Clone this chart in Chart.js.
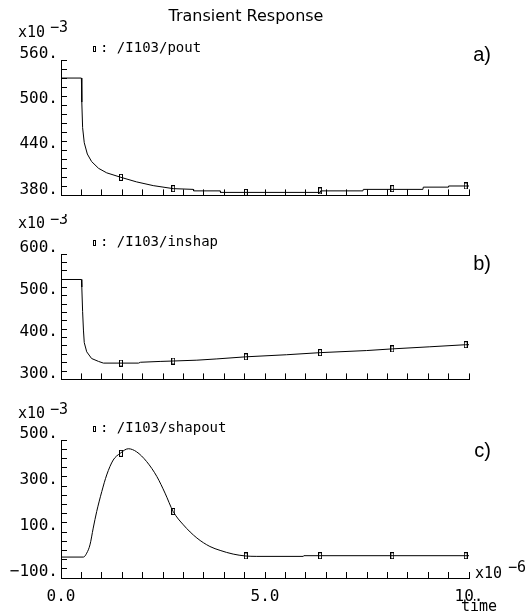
<!DOCTYPE html>
<html>
<head>
<meta charset="utf-8">
<script src="https://cdn.jsdelivr.net/npm/chart.js@4/dist/chart.umd.min.js"></script>
<style>
  body { margin: 0; background: #fff; }
  #wrap { position: relative; width: 528px; height: 616px; }
  canvas { position: absolute; left: 0; }
</style>
</head>
<body>
<div id="wrap">
  <canvas id="painelA" width="528" height="214" style="top:0px"></canvas>
  <canvas id="painelB" width="528" height="184" style="top:214px"></canvas>
  <canvas id="painelC" width="528" height="218" style="top:398px"></canvas>
</div>
<script>
// valores (tempo em us, tensao em mV)
const tempoA = [0, 0.5, 0.51, 0.53, 0.57, 0.645, 0.75, 0.92, 1.12, 1.47, 1.85, 2.26, 2.75, 3.24, 3.25, 3.9, 3.91, 6.35, 6.36, 7.4, 7.41, 8.87, 8.88, 9.49, 9.5, 10];
const pout   = [536, 536, 504, 470, 450, 435, 425, 416, 410, 404, 398, 393, 389, 388, 386, 386, 384, 384, 386, 386, 388, 388, 391, 391, 392.5, 392.5];

const tempoB = [0, 0.5, 0.51, 0.53, 0.55, 0.57, 0.63, 0.75, 0.92, 1.04, 1.9, 1.95, 2.43, 2.75, 3.33, 3.82, 4.53, 5.53, 6.35, 7.49, 8.12, 9.04, 9.92, 10];
const inshap = [539, 539, 521, 462, 418, 388, 366, 350, 343, 339, 339, 341, 343, 344, 346, 349, 354, 359, 364, 369, 373, 378, 383, 383];

const tempoC  = [0, 0.55, 0.63, 0.71, 0.79, 0.875, 1.0, 1.12, 1.28, 1.45, 1.65, 1.85, 2.1, 2.35, 2.55, 2.75, 3.0, 3.33, 3.65, 3.9, 4.22, 4.51, 4.8, 5.94, 5.95, 10];
const shapout = [-9, -9, 8, 44, 117, 189, 276, 348, 413, 442, 462, 449, 406, 341, 269, 189, 131, 74, 37, 20, 4, -4, -6, -6, -3, -3];

// marcadores
const tempoMarc = [1.47, 2.75, 4.53, 6.35, 8.12, 9.92];
const marcA = [404, 389, 384, 386, 389, 392.5];
const marcB = [339, 344, 354, 364, 373, 383];
const marcC = [442, 189, -4, -3, -3, -3];

// eixos
const eixoA = { min: 380, max: 560, passo: 12, rotulo: 60 };
const eixoB = { min: 300, max: 600, passo: 20, rotulo: 100 };
const eixoC = { min: -100, max: 500, passo: 40, rotulo: 200 };
const rotulosX = { 0: '0.0', 5: '5.0', 10: '10.' };

// marcador retangular pequeno
const marcador = document.createElement('canvas');
marcador.width = 4;
marcador.height = 7;
const mctx = marcador.getContext('2d');
mctx.strokeStyle = '#000';
mctx.lineWidth = 1;
mctx.strokeRect(0.5, 0.5, 3, 6);

const mono = 'DejaVu Sans Mono';

// textos soltos do grafico
const textos = {
  id: 'textos',
  afterDraw(chart, args, opts) {
    const ctx = chart.ctx;
    ctx.save();
    ctx.fillStyle = '#000';
    ctx.strokeStyle = '#000';
    ctx.lineWidth = 1;
    ctx.textBaseline = 'alphabetic';
    (opts.itens || []).forEach(t => {
      ctx.font = t.font;
      ctx.textAlign = t.align || 'left';
      ctx.fillText(t.text, t.x, t.y);
    });
    if (opts.legenda) {
      const l = opts.legenda;
      ctx.strokeRect(l.x + 0.5, l.y + 0.5, 2, 5);
    }
    ctx.restore();
  }
};

function pares(xs, ys) {
  return xs.map((x, i) => ({ x: x, y: ys[i] }));
}

function painel(id, cfg) {
  new Chart(document.getElementById(id), {
    type: 'line',
    data: {
      datasets: [{
        data: pares(cfg.tempo, cfg.valores),
        borderColor: '#000',
        borderWidth: 1,
        pointRadius: 0,
        tension: 0,
        cubicInterpolationMode: cfg.suave ? 'monotone' : 'default'
      }, {
        data: pares(tempoMarc, cfg.marcas),
        showLine: false,
        pointStyle: marcador,
        pointRadius: 3
      }]
    },
    options: {
      responsive: false,
      animation: false,
      events: [],
      layout: { padding: { left: 0, right: 59, top: cfg.topo, bottom: 0 } },
      plugins: {
        legend: { display: false },
        tooltip: { enabled: false },
        textos: { itens: cfg.textos, legenda: cfg.legenda }
      },
      scales: {
        x: {
          type: 'linear',
          min: 0,
          max: 10,
          border: { color: '#000', width: 1 },
          grid: { drawOnChartArea: false, tickLength: -6, color: '#000', tickColor: '#000' },
          ticks: {
            stepSize: 0.5,
            autoSkip: false,
            maxRotation: 0,
            color: '#000',
            padding: 15,
            font: { family: mono, size: 16 },
            callback: v => cfg.rotulosX ? (rotulosX[v] || '') : ''
          },
          afterFit(s) { s.height = cfg.alturaX; }
        },
        y: {
          min: cfg.eixo.min,
          max: cfg.eixo.max,
          border: { color: '#000', width: 1 },
          grid: { drawOnChartArea: false, tickLength: -6, color: '#000', tickColor: '#000' },
          ticks: {
            stepSize: cfg.eixo.passo,
            autoSkip: false,
            color: '#000',
            padding: 9,
            labelOffset: -6,
            font: { family: mono, size: 16 },
            callback: v => {
              if ((v - cfg.eixo.min) % cfg.eixo.rotulo !== 0) return '';
              return (v < 0 ? '\u2212' + Math.abs(v) : v) + '.';
            }
          },
          afterFit(s) { s.width = 61; }
        }
      }
    },
    plugins: [textos]
  });
}

const fonteExp = '15px "' + mono + '"';
const fonteLeg = '14px "' + mono + '"';
const fonteLetra = '20px "Liberation Sans"';

painel('painelA', {
  tempo: tempoA, valores: pout, marcas: marcA, eixo: eixoA,
  topo: 60, alturaX: 10,
  legenda: { x: 93, y: 46 },
  textos: [
    { text: 'Transient Response', x: 246, y: 21, font: '16px "DejaVu Sans"', align: 'center' },
    { text: 'x10', x: 18, y: 37, font: fonteExp },
    { text: '\u22123', x: 50, y: 32, font: fonteExp },
    { text: ': /I103/pout', x: 100, y: 52, font: fonteLeg },
    { text: 'a)', x: 491, y: 61, font: fonteLetra, align: 'right' }
  ]
});

painel('painelB', {
  tempo: tempoB, valores: inshap, marcas: marcB, eixo: eixoB,
  topo: 40, alturaX: 8,
  legenda: { x: 93, y: 26 },
  textos: [
    { text: 'x10', x: 18, y: 14, font: fonteExp },
    { text: '\u22123', x: 50, y: 10, font: fonteExp },
    { text: ': /I103/inshap', x: 100, y: 32, font: fonteLeg },
    { text: 'b)', x: 491, y: 56, font: fonteLetra, align: 'right' }
  ]
});

painel('painelC', {
  tempo: tempoC, valores: shapout, marcas: marcC, eixo: eixoC,
  topo: 42, alturaX: 38, suave: true, rotulosX: true,
  legenda: { x: 93, y: 28 },
  textos: [
    { text: 'x10', x: 18, y: 20, font: fonteExp },
    { text: '\u22123', x: 50, y: 16, font: fonteExp },
    { text: ': /I103/shapout', x: 100, y: 34, font: fonteLeg },
    { text: 'c)', x: 491, y: 59, font: fonteLetra, align: 'right' },
    { text: 'x10', x: 475, y: 180, font: fonteExp },
    { text: '\u22126', x: 508, y: 174, font: fonteExp },
    { text: 'time', x: 461, y: 213, font: fonteExp }
  ]
});
</script>
</body>
</html>
